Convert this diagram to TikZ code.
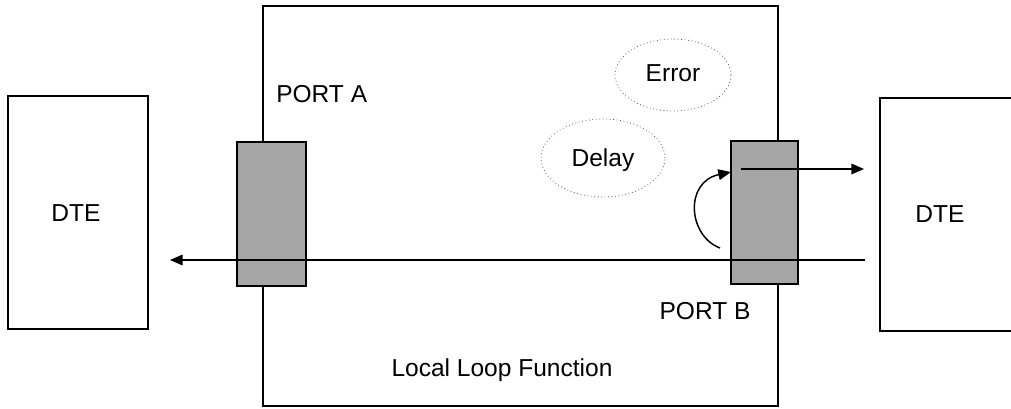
\documentclass[tikz,border=0pt]{standalone}
\usepackage{fontspec}
\setmainfont{Liberation Sans}
\usetikzlibrary{arrows.meta,fit,shapes.geometric}
\begin{document}
\begin{tikzpicture}[x=0.75pt,y=-0.75pt,
  box/.style={draw, line width=1.3pt, inner sep=0pt},
  portbox/.style={draw, line width=1.5pt, fill=portgray, inner sep=0pt},
  cloud/.style={draw=gray!70!black, dotted, line width=0.6pt, ellipse, inner sep=0pt},
  lbl/.style={font=\fontsize{18.4}{21}\selectfont, inner sep=0pt},
  flow/.style={line width=1.1pt, -{Triangle[length=9.5pt,width=8pt]}}]
\definecolor{portgray}{HTML}{A6A6A6}
\useasboundingbox (0,0) rectangle (1011,408);
\clip (0,0) rectangle (1011,408);
\node[box, fit={(263,6)(778,406)}] (main) {};
\node[box, fit={(8,96)(148,329)}] (dteL) {};
\node[box, fit={(880,98)(1030,331)}] (dteR) {};
\node[portbox, fit={(237,142)(306,286)}] (portA) {};
\node[portbox, fit={(731,141)(798,284)}] (portB) {};
\node[cloud, minimum width=87pt, minimum height=54pt] (err) at (673,75) {};
\node[cloud, minimum width=93pt, minimum height=58.5pt] (dly) at (603,158) {};
\node[lbl] (terr) at (673,73) {Error};
\node[lbl] (tdly) at (603,160) {Delay};
\node[lbl, anchor=west] (pa) at (276,94) {PORT A};
\node[lbl] (pb) at (705,311) {PORT B};
\node[lbl] (dl) at (76,213) {DTE};
\node[lbl] (dr) at (940,214) {DTE};
\node[lbl] (llf) at (502,370) {Local Loop Function};
\coordinate (rin) at (865,260);
\coordinate (lout) at (170,260);
\coordinate (bout) at (864,169);
\coordinate (bin) at (741,169);
\coordinate (cst) at (720,248);
\coordinate (cend) at (731,172);
\draw[flow] (rin) -- (lout);
\draw[flow] (bin) -- (bout);
\draw[flow] (cst) .. controls (688,236) and (684,182) .. (cend);
\end{tikzpicture}
\end{document}
